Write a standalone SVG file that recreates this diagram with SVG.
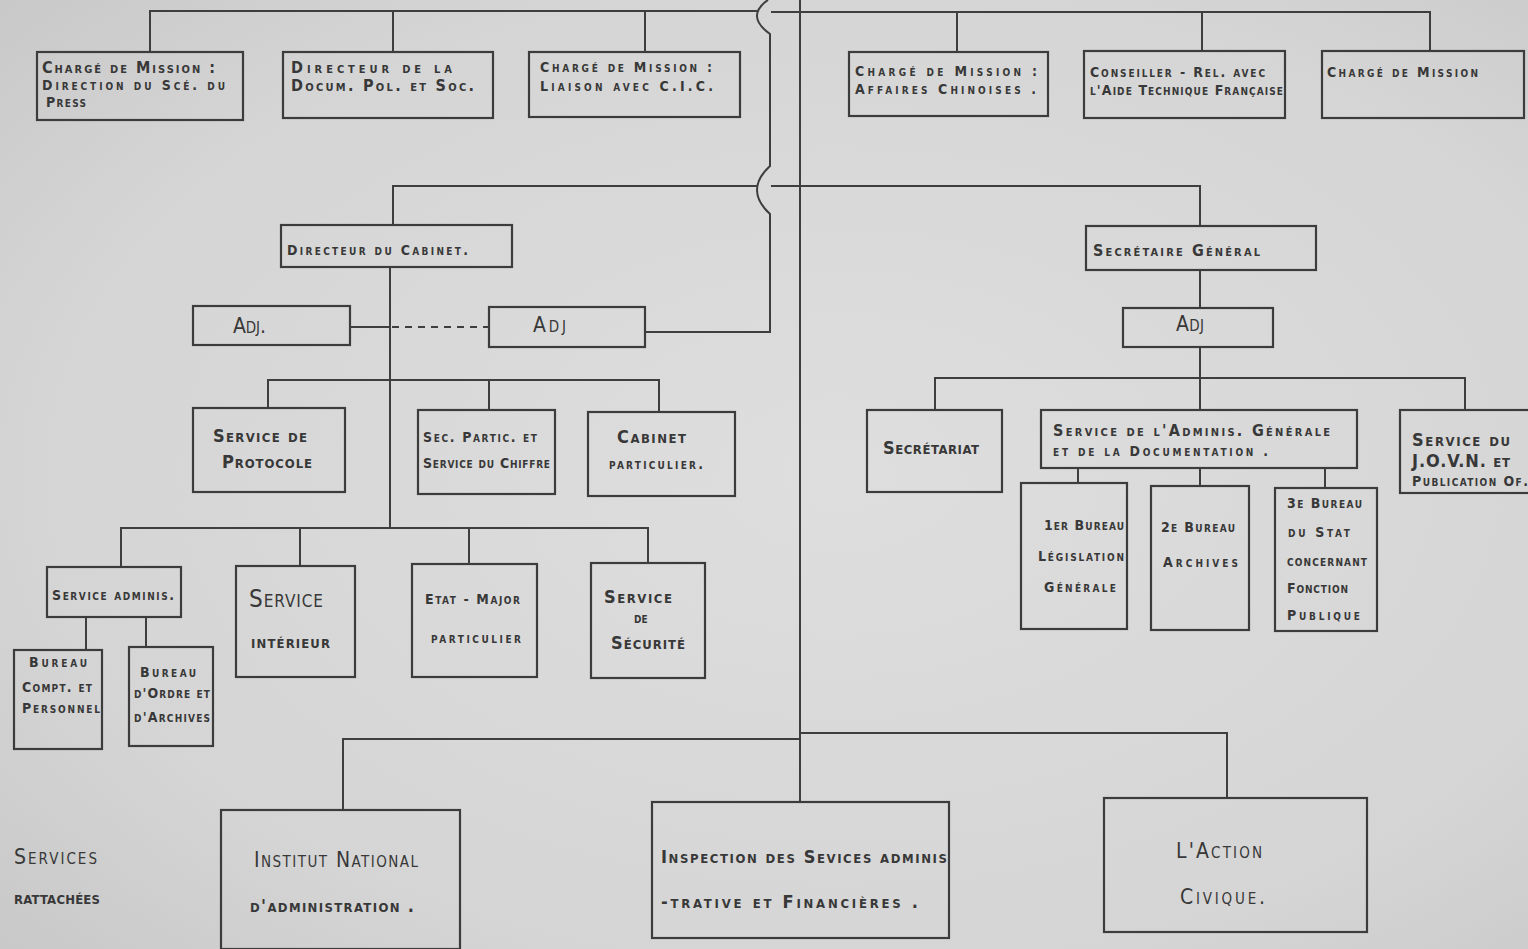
<svg xmlns="http://www.w3.org/2000/svg" width="1528" height="949" viewBox="0 0 1528 949">
<defs>
<radialGradient id="bg" cx="0.55" cy="0.5" r="0.75">
<stop offset="0" stop-color="#dedede"/>
<stop offset="0.7" stop-color="#d5d5d5"/>
<stop offset="1" stop-color="#c8c8c8"/>
</radialGradient>
<style>
.box{fill:none;stroke:#3c3c3c;stroke-width:2.2}
.ln{fill:none;stroke:#3e3e3e;stroke-width:2}
.dash{fill:none;stroke:#3e3e3e;stroke-width:2;stroke-dasharray:7 6}
text{font-family:"DejaVu Sans Condensed","Liberation Sans",sans-serif;font-variant:small-caps;fill:#383838;font-size:16px;font-weight:bold}
.s{font-size:14px}
.m{font-size:18px}
.l{font-size:21px;font-weight:normal}
.xl{font-size:24px;font-weight:normal}
</style>
</defs>
<rect width="1528" height="949" fill="url(#bg)"/>
<g id="connectors">
<path class="ln" d="M150 52 V11 H757 M771 12 H1430 V51"/>
<path class="ln" d="M393 12 V52 M645 12 V52 M957 12 V52 M1202 12 V51"/>
<path class="ln" d="M800 0 V802"/>
<path class="ln" d="M768 0 Q745 16 770 34 V166 Q744 190 770 214 V332 H645"/>
<path class="ln" d="M393 225 V186 H757 M771 186 H1200 V226"/>
<path class="ln" d="M390 267 V528"/>
<path class="ln" d="M350 327 H390"/>
<path class="dash" d="M392 327 H489"/>
<path class="ln" d="M268 408 V380 H659 V412 M489 380 V410"/>
<path class="ln" d="M121 567 V528 H648 V563 M300 528 V566 M469 528 V564"/>
<path class="ln" d="M86 617 V650 M146 617 V647"/>
<path class="ln" d="M1200 270 V308 M1200 347 V410"/>
<path class="ln" d="M935 410 V378 H1465 V410"/>
<path class="ln" d="M1078 468 V483 M1200 468 V486 M1325 468 V488"/>
<path class="ln" d="M343 810 V739 H800 M800 733 H1227 V798"/>
</g>
<g id="n1"><rect class="box" x="37" y="52" width="206" height="68"/>
<text x="42" y="73" textLength="173" lengthAdjust="spacing">Chargé de Mission :</text>
<text x="42" y="90" class="s" textLength="183" lengthAdjust="spacing">Direction du Scé. du</text>
<text x="46" y="107" class="s" textLength="40" lengthAdjust="spacing">Press</text></g>
<g id="n2"><rect class="box" x="283" y="52" width="210" height="66"/>
<text x="291" y="73" textLength="161" lengthAdjust="spacing">Directeur de la</text>
<text x="291" y="91" textLength="183" lengthAdjust="spacing">Docum. Pol. et Soc.</text></g>
<g id="n3"><rect class="box" x="529" y="52" width="211" height="65"/>
<text x="540" y="72" class="s" textLength="172" lengthAdjust="spacing">Chargé de Mission :</text>
<text x="540" y="91" class="s" textLength="173" lengthAdjust="spacing">Liaison avec C.I.C.</text></g>
<g id="n4"><rect class="box" x="849" y="52" width="199" height="64"/>
<text x="855" y="76" class="s" textLength="182" lengthAdjust="spacing">Chargé de Mission :</text>
<text x="855" y="94" class="s" textLength="181" lengthAdjust="spacing">Affaires Chinoises .</text></g>
<g id="n5"><rect class="box" x="1084" y="51" width="201" height="67"/>
<text x="1090" y="77" class="s" textLength="175" lengthAdjust="spacing">Conseiller - Rel. avec</text>
<text x="1090" y="95" class="s" textLength="193" lengthAdjust="spacing">l'Aide Technique Française</text></g>
<g id="n6"><rect class="box" x="1322" y="51" width="202" height="67"/>
<text x="1327" y="77" class="s" textLength="151" lengthAdjust="spacing">Chargé de Mission</text></g>
<g id="n7"><rect class="box" x="281" y="225" width="231" height="42"/>
<text x="287" y="255" class="s" textLength="181" lengthAdjust="spacing">Directeur du Cabinet.</text></g>
<g id="n8"><rect class="box" x="193" y="306" width="157" height="39"/>
<text x="233" y="333" class="l" textLength="33" lengthAdjust="spacing">Adj.</text></g>
<g id="n9"><rect class="box" x="489" y="307" width="156" height="40"/>
<text x="533" y="332" class="l" textLength="33" lengthAdjust="spacing">Adj</text></g>
<g id="n10"><rect class="box" x="193" y="408" width="152" height="84"/>
<text x="213" y="442" class="m" textLength="94" lengthAdjust="spacing">Service de</text>
<text x="222" y="468" class="m" textLength="90" lengthAdjust="spacing">Protocole</text></g>
<g id="n11"><rect class="box" x="418" y="410" width="137" height="84"/>
<text x="423" y="442" class="s" textLength="114" lengthAdjust="spacing">Sec. Partic. et</text>
<text x="423" y="468" class="s" textLength="127" lengthAdjust="spacing">Service du Chiffre</text></g>
<g id="n12"><rect class="box" x="588" y="412" width="147" height="84"/>
<text x="617" y="443" class="m" textLength="69" lengthAdjust="spacing">Cabinet</text>
<text x="609" y="469" class="s" textLength="94" lengthAdjust="spacing">particulier.</text></g>
<g id="n13"><rect class="box" x="47" y="567" width="134" height="50"/>
<text x="52" y="600" class="s" textLength="122" lengthAdjust="spacing">Service adminis.</text></g>
<g id="n14"><rect class="box" x="236" y="566" width="119" height="111"/>
<text x="249" y="607" class="xl" textLength="74" lengthAdjust="spacing">Service</text>
<text x="251" y="648" class="m" textLength="79" lengthAdjust="spacing">intérieur</text></g>
<g id="n15"><rect class="box" x="412" y="564" width="125" height="113"/>
<text x="425" y="604" class="s" textLength="95" lengthAdjust="spacing">Etat - Major</text>
<text x="431" y="643" class="s" textLength="90" lengthAdjust="spacing">particulier</text></g>
<g id="n16"><rect class="box" x="591" y="563" width="114" height="115"/>
<text x="604" y="603" class="m" textLength="68" lengthAdjust="spacing">Service</text>
<text x="634" y="623" class="s">de</text>
<text x="611" y="649" class="m" textLength="74" lengthAdjust="spacing">Sécurité</text></g>
<g id="n17"><rect class="box" x="14" y="650" width="88" height="99"/>
<text x="29" y="667" class="s" textLength="58" lengthAdjust="spacing">Bureau</text>
<text x="22" y="692" class="s" textLength="70" lengthAdjust="spacing">Compt. et</text>
<text x="22" y="713" class="s" textLength="78" lengthAdjust="spacing">Personnel</text></g>
<g id="n18"><rect class="box" x="129" y="647" width="84" height="99"/>
<text x="140" y="677" class="s" textLength="56" lengthAdjust="spacing">Bureau</text>
<text x="134" y="698" class="s" textLength="76" lengthAdjust="spacing">d'Ordre et</text>
<text x="134" y="722" class="s" textLength="76" lengthAdjust="spacing">d'Archives</text></g>
<g id="n19"><rect class="box" x="1086" y="226" width="230" height="44"/>
<text x="1093" y="256" textLength="167" lengthAdjust="spacing">Secrétaire Général</text></g>
<g id="n20"><rect class="box" x="1123" y="308" width="150" height="39"/>
<text x="1176" y="331" class="l" textLength="28" lengthAdjust="spacing">Adj</text></g>
<g id="n21"><rect class="box" x="867" y="410" width="135" height="82"/>
<text x="883" y="454" class="m" textLength="96" lengthAdjust="spacing">Secrétariat</text></g>
<g id="n22"><rect class="box" x="1041" y="410" width="316" height="58"/>
<text x="1053" y="436" textLength="277" lengthAdjust="spacing">Service de l'Adminis. Générale</text>
<text x="1053" y="456" class="s" textLength="215" lengthAdjust="spacing">et de la Documentation .</text></g>
<g id="n23"><rect class="box" x="1400" y="410" width="140" height="83"/>
<text x="1412" y="446" class="m" textLength="98" lengthAdjust="spacing">Service du</text>
<text x="1412" y="467" class="m" textLength="98" lengthAdjust="spacing">J.O.V.N. et</text>
<text x="1412" y="486" class="s" textLength="116" lengthAdjust="spacing">Publication Of.</text></g>
<g id="n24"><rect class="box" x="1021" y="483" width="106" height="146"/>
<text x="1044" y="530" class="s" textLength="80" lengthAdjust="spacing">1er Bureau</text>
<text x="1038" y="561" class="s" textLength="86" lengthAdjust="spacing">Législation</text>
<text x="1044" y="592" class="s" textLength="72" lengthAdjust="spacing">Générale</text></g>
<g id="n25"><rect class="box" x="1151" y="486" width="98" height="144"/>
<text x="1161" y="532" class="s" textLength="74" lengthAdjust="spacing">2e Bureau</text>
<text x="1163" y="567" class="s" textLength="75" lengthAdjust="spacing">Archives</text></g>
<g id="n26"><rect class="box" x="1275" y="488" width="102" height="143"/>
<text x="1287" y="508" class="s" textLength="75" lengthAdjust="spacing">3e Bureau</text>
<text x="1288" y="537" class="s" textLength="62" lengthAdjust="spacing">du Stat</text>
<text x="1287" y="566" class="s" textLength="80" lengthAdjust="spacing">concernant</text>
<text x="1287" y="593" class="s" textLength="61" lengthAdjust="spacing">Fonction</text>
<text x="1287" y="620" class="s" textLength="73" lengthAdjust="spacing">Publique</text></g>
<g id="n27"><rect class="box" x="221" y="810" width="239" height="139"/>
<text x="254" y="867" class="l" textLength="164" lengthAdjust="spacing">Institut National</text>
<text x="250" y="912" class="m" textLength="164" lengthAdjust="spacing">d'administration .</text></g>
<g id="n28"><rect class="box" x="652" y="802" width="297" height="136"/>
<text x="661" y="863" class="m" textLength="286" lengthAdjust="spacing">Inspection des Sevices adminis</text>
<text x="661" y="908" class="m" textLength="257" lengthAdjust="spacing">-trative et Financières .</text></g>
<g id="n29"><rect class="box" x="1104" y="798" width="263" height="134"/>
<text x="1176" y="858" class="l" textLength="86" lengthAdjust="spacing">L'Action</text>
<text x="1180" y="904" class="l" textLength="85" lengthAdjust="spacing">Civique.</text></g>
<g id="n30">
<text x="14" y="864" class="l" textLength="83" lengthAdjust="spacing">Services</text>
<text x="14" y="904" class="m" textLength="86" lengthAdjust="spacing">rattachées</text></g>
</svg>
